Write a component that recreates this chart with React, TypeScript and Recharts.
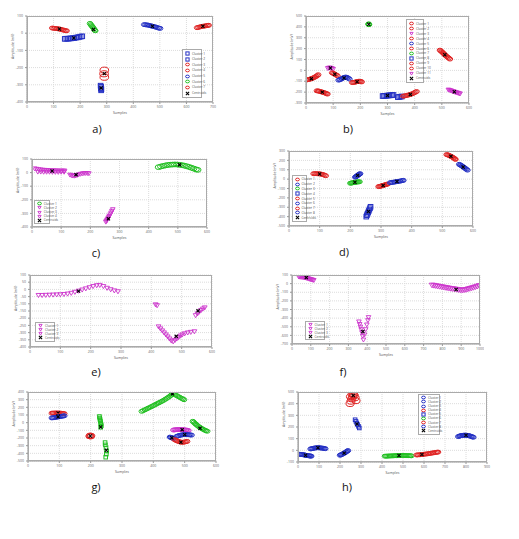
import React from 'react';
import { ScatterChart, Scatter, XAxis, YAxis, CartesianGrid } from 'recharts';

const RED = '#e02424';
const BLUE = '#2430c4';
const GREEN = '#22c022';
const MAG = '#cc33cc';

// ---- a) ----
const A_X_TICKS = [0, 100, 200, 300, 400, 500, 600, 700];
const A_Y_TICKS = [-400, -300, -200, -100, 0, 100];
const A_C1 = [[142,-33],[148,-32],[154,-32],[160,-31],[166,-30],[172,-29],[178,-28],[184,-26],[190,-24],[196,-22],[202,-20],[208,-18]];
const A_C2 = [[277,-305],[279,-312],[278,-320],[280,-326],[279,-332]];
const A_C3 = [[95,30],[100,29],[105,28],[110,27],[115,26],[120,25],[125,23],[130,21],[135,19],[140,17],[145,15],[149,14]];
const A_C4 = [[640,32],[645,34],[650,36],[655,38],[660,40],[665,41],[670,42],[675,44],[680,45],[684,46]];
const A_C5 = [[441,50],[446,49],[451,48],[456,47],[461,45],[466,43],[471,41],[476,39],[481,37],[486,35],[491,32],[496,30],[501,28]];
const A_C6 = [[237,57],[240,50],[243,44],[246,38],[249,32],[252,25],[255,18],[257,14]];
const A_C7 = [[291,-215],[290,-236],[291,-256]];
const A_CENT = [[176,-28],[279,-318],[122,24],[662,40],[472,40],[250,22],[291,-235]];

// ---- b) ----
const B_X_TICKS = [0, 100, 200, 300, 400, 500, 600];
const B_Y_TICKS = [-300, -200, -100, 0, 100, 200, 300, 400, 500];
const B_C1 = [[2,-88],[6,-86],[10,-84],[14,-81],[18,-78],[22,-74],[26,-70],[30,-65],[34,-60],[38,-54],[42,-47],[45,-40]];
const B_C2 = [[40,-188],[44,-189],[48,-191],[52,-194],[56,-197],[60,-200],[64,-203],[68,-206],[72,-210],[76,-214],[79,-218]];
const B_C3 = [[80,20],[84,23],[88,24],[92,22],[96,18],[100,12]];
const B_C4 = [[96,-22],[100,-27],[104,-32],[108,-38],[112,-44],[116,-50]];
const B_C5 = [[120,-90],[124,-86],[128,-82],[132,-76],[136,-70],[140,-66],[144,-62],[148,-62],[152,-66],[156,-72],[160,-80]];
const B_C6 = [[170,-112],[174,-111],[178,-110],[182,-107],[186,-105],[190,-102],[194,-100],[198,-100],[202,-102],[205,-106]];
const B_C7 = [[231,428],[232,420],[230,424]];
const B_C8 = [[282,-236],[287,-235],[292,-234],[297,-233],[302,-231],[307,-230],[312,-229],[317,-227],[322,-226],[338,-246],[343,-244],[348,-242],[353,-240]];
const B_C9 = [[358,-237],[363,-235],[368,-232],[373,-229],[378,-226],[383,-222],[388,-218],[393,-213],[398,-207],[403,-200],[407,-194]];
const B_C10 = [[493,186],[496,180],[499,173],[502,166],[505,159],[508,151],[511,144],[514,136],[518,128],[522,120],[526,112],[530,104]];
const B_C11 = [[524,-178],[528,-181],[532,-184],[536,-188],[540,-192],[544,-195],[548,-198],[552,-202],[556,-205],[560,-208],[564,-212],[567,-214]];
const B_CENT = [[20,-76],[60,-200],[90,22],[106,-36],[140,-70],[188,-104],[231,424],[300,-232],[384,-221],[511,144],[546,-196]];

// ---- c) ----
const C_X_TICKS = [0, 100, 200, 300, 400, 500, 600];
const C_Y_TICKS = [-400, -300, -200, -100, 0, 100];
const C_C1 = [[434,40],[442,45],[450,49],[458,53],[466,56],[474,58],[482,59],[490,60],[498,59],[506,57],[514,55],[522,51],[530,47],[538,42],[546,36],[554,30],[562,24],[568,20]];
const C_C2 = [[9,30],[16,27],[23,24],[30,22],[37,20],[44,19],[51,18],[58,17],[65,16],[72,16],[79,15],[86,15],[93,14],[100,14],[107,14],[112,14],[20,6],[30,6],[40,5],[50,5],[60,5],[70,4],[80,4],[90,4],[100,5],[110,5]];
const C_C3 = [[130,-16],[135,-20],[140,-23],[145,-24],[150,-22],[155,-18],[160,-14],[166,-10],[172,-7],[178,-5],[184,-4],[190,-4],[195,-6]];
const C_C4 = [[253,-362],[255,-356],[257,-350],[259,-343],[261,-336],[263,-328],[265,-320],[268,-308],[271,-295],[274,-282],[277,-270]];
const C_CENT = [[506,57],[69,12],[151,-15],[262,-340]];

// ---- d) ----
const D_X_TICKS = [0, 100, 200, 300, 400, 500, 600];
const D_Y_TICKS = [-500, -400, -300, -200, -100, 0, 100, 200, 300];
const D_C1 = [[80,58],[84,58],[88,58],[92,57],[96,57],[100,56],[104,54],[108,51],[112,47],[116,42],[120,36]];
const D_C2 = [[216,20],[218,25],[220,30],[222,35],[224,40],[226,45],[228,50],[230,55],[232,58]];
const D_C3 = [[200,-44],[203,-42],[206,-40],[209,-38],[212,-36],[215,-34],[218,-32],[221,-31],[224,-30],[227,-29],[230,-28]];
const D_C4 = [[252,-400],[254,-385],[256,-370],[258,-355],[260,-340],[262,-325],[264,-310],[266,-295]];
const D_C5 = [[292,-80],[295,-78],[298,-76],[301,-73],[304,-70],[307,-67],[310,-64],[313,-61],[316,-58],[319,-55],[322,-52]];
const D_C6 = [[330,-38],[334,-36],[338,-34],[342,-32],[346,-30],[350,-27],[354,-25],[358,-23],[362,-21],[366,-18],[370,-15],[373,-13]];
const D_C7 = [[514,262],[517,259],[520,256],[523,251],[526,246],[529,241],[532,236],[535,230],[538,224],[541,216],[543,210]];
const D_C8 = [[555,158],[558,152],[561,146],[564,140],[567,133],[570,126],[573,119],[576,111],[579,104],[582,96]];
const D_CENT = [[100,55],[224,40],[215,-34],[259,-345],[307,-67],[352,-26],[528,243],[568,130]];

// ---- e) ----
const E_X_TICKS = [0, 100, 200, 300, 400, 500, 600];
const E_Y_TICKS = [-400, -350, -300, -250, -200, -150, -100, -50, 0, 50, 100];
const E_C1 = [[28,-40],[40,-40],[52,-39],[64,-38],[76,-37],[88,-36],[100,-35],[112,-33],[124,-30],[136,-25],[148,-18],[160,-10],[172,-2],[184,6],[196,14],[208,22],[220,28],[230,30],[242,22],[254,10],[266,0],[278,-8],[290,-14]];
const E_C2 = [[414,-105],[419,-111],[424,-258],[430,-272],[436,-286],[442,-300],[448,-314],[454,-328],[460,-342],[466,-356],[472,-362],[478,-352],[484,-342],[490,-332],[496,-322],[502,-314],[510,-306],[520,-300],[530,-296],[542,-292]];
const E_C3 = [[546,-180],[552,-168],[558,-156],[564,-144],[570,-134],[576,-126]];
const E_CENT = [[160,-12],[482,-326],[554,-149]];

// ---- f) ----
const F_X_TICKS = [0, 100, 200, 300, 400, 500, 600, 700, 800, 900, 1000];
const F_Y_TICKS = [-700, -600, -500, -400, -300, -200, -100, 0, 100];
const F_C1 = [[36,80],[41,79],[46,78],[51,77],[56,76],[61,74],[66,72],[71,69],[76,66],[81,63],[86,60],[91,56],[96,52],[101,49],[106,46],[111,43],[116,40]];
const F_C2 = [[356,-440],[360,-470],[364,-500],[368,-530],[372,-565],[376,-605],[380,-650],[386,-590],[392,-530],[398,-475],[404,-425],[407,-390]];
const F_C3 = [[745,-17],[755,-20],[765,-24],[775,-28],[785,-32],[795,-36],[805,-40],[815,-44],[825,-48],[835,-52],[845,-56],[855,-59],[865,-62],[875,-66],[885,-70],[895,-73],[905,-75],[915,-72],[925,-68],[935,-62],[945,-56],[955,-50],[965,-44],[975,-37],[985,-30],[996,-22]];
const F_CENT = [[76,70],[377,-556],[873,-68]];

// ---- g) ----
const G_X_TICKS = [0, 100, 200, 300, 400, 500, 600];
const G_Y_TICKS = [-500, -400, -300, -200, -100, 0, 100, 200, 300, 400];
const G_C1 = [[76,124],[80,125],[84,125],[88,126],[92,126],[96,126],[100,125],[104,124],[108,122],[112,120],[116,118]];
const G_C2 = [[76,62],[80,64],[84,66],[88,69],[92,72],[96,75],[100,78],[104,81],[108,84],[112,87],[116,90]];
const G_C3 = [[198,-168],[200,-180],[196,-176],[202,-172]];
const G_C4 = [[228,80],[229,60],[230,40],[231,20],[232,0],[233,-20],[234,-40],[232,-60]];
const G_C5 = [[246,-260],[247,-290],[249,-330],[251,-370],[250,-410],[248,-450]];
const G_C6 = [[363,148],[368,158],[373,168],[378,178],[383,188],[388,198],[393,208],[398,218],[403,228],[408,239],[413,250],[418,260],[423,270],[428,281],[433,292],[438,305],[443,318],[448,332],[453,346],[457,360],[461,376],[465,370],[470,362],[475,352],[480,340],[485,329],[490,318],[494,309],[498,300]];
const G_C7 = [[526,18],[529,6],[533,-10],[536,-22],[540,-35],[544,-48],[548,-60],[552,-70],[556,-80],[560,-89],[564,-98],[568,-105],[572,-112]];
const G_C8 = [[464,-96],[468,-94],[472,-92],[476,-91],[480,-90],[484,-90],[488,-90],[492,-91],[496,-92],[500,-94],[504,-96],[508,-99],[512,-102]];
const G_C9 = [[474,-180],[478,-174],[482,-168],[486,-164],[490,-160],[494,-158],[498,-156],[502,-156],[506,-156],[510,-157],[514,-158],[518,-160],[522,-162]];
const G_C10 = [[453,-188],[456,-192],[459,-197],[462,-203],[465,-208]];
const G_C11 = [[468,-222],[472,-230],[476,-238],[480,-244],[484,-250],[488,-254],[492,-256],[496,-255],[500,-252],[504,-248],[508,-244]];
const G_CENT = [[96,126],[96,76],[199,-175],[232,-57],[250,-360],[461,376],[549,-74],[492,-91],[500,-156],[459,-197],[488,-254]];

// ---- h) ----
const H_X_TICKS = [0, 100, 200, 300, 400, 500, 600, 700, 800, 900];
const H_Y_TICKS = [-100, 0, 100, 200, 300, 400, 500];
const H_C1 = [[8,-34],[12,-35],[16,-36],[20,-37],[24,-38],[28,-39],[32,-40],[36,-42],[40,-44],[44,-45],[48,-46],[52,-47],[56,-48],[60,-49],[63,-50]];
const H_C2 = [[60,12],[65,14],[70,16],[75,18],[80,20],[85,21],[90,22],[95,22],[100,22],[105,21],[110,20],[115,19],[120,18],[125,16],[130,14]];
const H_C3 = [[200,-42],[204,-39],[208,-36],[212,-32],[216,-28],[220,-24],[224,-20],[228,-15],[232,-10],[235,-6],[238,-2]];
const H_C4 = [[248,400],[252,420],[256,440],[260,460],[264,476],[268,470],[272,450],[276,425],[250,460],[258,478]];
const H_C5 = [[272,262],[276,248],[280,234],[284,220],[288,206],[292,192]];
const H_C6 = [[414,-50],[420,-50],[426,-49],[432,-49],[438,-48],[444,-48],[450,-47],[456,-47],[462,-46],[468,-46],[474,-45],[480,-45],[486,-44],[492,-44],[498,-44],[504,-44],[510,-44],[516,-45],[522,-45],[528,-46],[534,-46],[540,-47]];
const H_C7 = [[565,-40],[571,-39],[578,-38],[584,-37],[591,-36],[597,-34],[604,-33],[610,-31],[617,-30],[623,-28],[630,-26],[636,-24],[643,-22],[649,-20],[656,-18],[662,-16],[667,-15]];
const H_C8 = [[763,118],[768,121],[772,124],[777,126],[781,128],[786,129],[790,130],[795,130],[799,130],[804,129],[808,128],[813,126],[817,124],[822,121],[826,118],[831,115],[835,112]];
const H_CENT = [[36,-42],[95,22],[220,-24],[263,470],[281,225],[481,-45],[590,-36],[800,130]];

type Cluster = { pts: number[][]; color: string; shape: string; r?: number };
type PanelCfg = {
  label: string; lx: number; ly: number;
  px: number; py: number; pw: number; ph: number;
  xTicks: number[]; yTicks: number[];
  clusters: Cluster[]; cent: number[][];
  legend?: { fx: number; fy: number; fw: number; fh: number };
};

const P = (a: number[][]) => a.map(([x, y]) => ({ x, y }));

function markShape(kind: string, color: string, r = 2.3) {
  return (p: any) => {
    const { cx, cy } = p;
    if (cx == null || cy == null) return <g />;
    if (kind === 'sq')
      return <rect x={cx - r} y={cy - r} width={2 * r} height={2 * r} fill="none" stroke={color} strokeWidth={1} />;
    if (kind === 'tri')
      return <polygon points={`${cx - r},${cy - r * 0.7} ${cx + r},${cy - r * 0.7} ${cx},${cy + r}`} fill="none" stroke={color} strokeWidth={0.9} />;
    return <ellipse cx={cx} cy={cy} rx={r * 1.2} ry={r * 0.85} fill="none" stroke={color} strokeWidth={1} />;
  };
}

const centShape = (p: any) => {
  const { cx, cy } = p;
  if (cx == null || cy == null) return <g />;
  const s = 1.6;
  return <path d={`M${cx - s},${cy - s}L${cx + s},${cy + s}M${cx - s},${cy + s}L${cx + s},${cy - s}`} stroke="#000" strokeWidth={1.1} />;
};

const TICK = { fontSize: 3.5, fill: '#666' };

function LegendBox({ cfg }: { cfg: PanelCfg }) {
  const lg = cfg.legend!;
  const items = [...cfg.clusters.map((c, i) => ({ name: `Cluster ${i + 1}`, c })), { name: 'Centroids', c: null as any }];
  return (
    <div style={{
      position: 'absolute', left: cfg.px + lg.fx * cfg.pw, top: cfg.py + lg.fy * cfg.ph,
      width: lg.fw * cfg.pw, height: lg.fh * cfg.ph, background: '#fff', border: '0.5px solid #aaa',
      boxSizing: 'border-box', display: 'flex', flexDirection: 'column', justifyContent: 'space-around', padding: '1px 1px',
    }}>
      {items.map((it, i) => (
        <div key={i} style={{ display: 'flex', alignItems: 'center', height: 4 }}>
          <svg width={7} height={5} style={{ flex: 'none' }}>
            {it.c ? markShape(it.c.shape, it.c.color, 1.6)({ cx: 3.5, cy: 2.5 }) : centShape({ cx: 3.5, cy: 2.5 })}
          </svg>
          <span style={{ fontSize: 3.2, color: '#555', marginLeft: 1, whiteSpace: 'nowrap', lineHeight: '4px' }}>{it.name}</span>
        </div>
      ))}
    </div>
  );
}

function Panel({ cfg }: { cfg: PanelCfg }) {
  const ML = 20, MT = 4, MR = 4, MB = 20;
  const xd = [cfg.xTicks[0], cfg.xTicks[cfg.xTicks.length - 1]];
  const yd = [cfg.yTicks[0], cfg.yTicks[cfg.yTicks.length - 1]];
  return (
    <>
      <div style={{ position: 'absolute', left: cfg.px - ML, top: cfg.py - MT }}>
        <ScatterChart width={cfg.pw + ML + MR} height={cfg.ph + MT + MB} margin={{ top: MT, right: MR, left: 6, bottom: 8 }}>
          <CartesianGrid stroke="#dcdcdc" strokeDasharray="1 1" />
          <XAxis type="number" dataKey="x" domain={xd} ticks={cfg.xTicks} interval={0} height={12} tick={TICK} tickSize={2}
            axisLine={{ stroke: '#999' }} tickLine={{ stroke: '#999' }} allowDataOverflow
            label={{ value: 'Samples', position: 'bottom', offset: -2, fontSize: 3.5, fill: '#555' }} />
          <YAxis type="number" dataKey="y" domain={yd} ticks={cfg.yTicks} interval={0} width={14} tick={TICK} tickSize={2}
            axisLine={{ stroke: '#999' }} tickLine={{ stroke: '#999' }} allowDataOverflow
            label={{ value: 'Amplitude (mV)', angle: -90, position: 'insideLeft', offset: 0, fontSize: 3.5, fill: '#555' }} />
          {cfg.clusters.map((c, i) => (
            <Scatter key={i} data={P(c.pts)} shape={markShape(c.shape, c.color, c.r)} isAnimationActive={false} />
          ))}
          <Scatter data={P(cfg.cent)} shape={centShape} isAnimationActive={false} />
        </ScatterChart>
      </div>
      <div style={{ position: 'absolute', left: cfg.px, top: cfg.py, width: cfg.pw, height: cfg.ph, border: '0.6px solid #aaa', boxSizing: 'border-box', pointerEvents: 'none' }} />
      {cfg.legend && <LegendBox cfg={cfg} />}
      <div style={{ position: 'absolute', left: cfg.lx - 15, top: cfg.ly - 8, width: 30, textAlign: 'center', fontSize: 11, lineHeight: '16px', color: '#111' }}>{cfg.label}</div>
    </>
  );
}

const PANELS: PanelCfg[] = [
  {
    label: 'a)', lx: 97, ly: 129, px: 27, py: 16, pw: 186, ph: 86, xTicks: A_X_TICKS, yTicks: A_Y_TICKS,
    clusters: [
      { pts: A_C1, color: BLUE, shape: 'sq' }, { pts: A_C2, color: BLUE, shape: 'sq' },
      { pts: A_C3, color: RED, shape: 'o' }, { pts: A_C4, color: RED, shape: 'o' },
      { pts: A_C5, color: BLUE, shape: 'o' }, { pts: A_C6, color: GREEN, shape: 'o' },
      { pts: A_C7, color: RED, shape: 'o', r: 3.6 },
    ],
    cent: A_CENT, legend: { fx: 0.833, fy: 0.38, fw: 0.108, fh: 0.574 },
  },
  {
    label: 'b)', lx: 348, ly: 129, px: 306, py: 16, pw: 163, ph: 87, xTicks: B_X_TICKS, yTicks: B_Y_TICKS,
    clusters: [
      { pts: B_C1, color: RED, shape: 'o' }, { pts: B_C2, color: RED, shape: 'o' },
      { pts: B_C3, color: MAG, shape: 'tri' }, { pts: B_C4, color: RED, shape: 'o' },
      { pts: B_C5, color: BLUE, shape: 'o' }, { pts: B_C6, color: RED, shape: 'o' },
      { pts: B_C7, color: GREEN, shape: 'o' }, { pts: B_C8, color: BLUE, shape: 'sq' },
      { pts: B_C9, color: RED, shape: 'o' }, { pts: B_C10, color: RED, shape: 'o' },
      { pts: B_C11, color: MAG, shape: 'tri' },
    ],
    cent: B_CENT, legend: { fx: 0.613, fy: 0.038, fw: 0.11, fh: 0.73 },
  },
  {
    label: 'c)', lx: 96, ly: 253, px: 32, py: 159, pw: 175, ph: 68, xTicks: C_X_TICKS, yTicks: C_Y_TICKS,
    clusters: [
      { pts: C_C1, color: GREEN, shape: 'o', r: 2.8 }, { pts: C_C2, color: MAG, shape: 'tri' },
      { pts: C_C3, color: MAG, shape: 'tri' }, { pts: C_C4, color: MAG, shape: 'tri' },
    ],
    cent: C_CENT, legend: { fx: 0.01, fy: 0.6, fw: 0.09, fh: 0.36 },
  },
  {
    label: 'd)', lx: 344, ly: 252, px: 289, py: 151, pw: 184, ph: 75, xTicks: D_X_TICKS, yTicks: D_Y_TICKS,
    clusters: [
      { pts: D_C1, color: RED, shape: 'o' }, { pts: D_C2, color: BLUE, shape: 'o' },
      { pts: D_C3, color: GREEN, shape: 'o' }, { pts: D_C4, color: BLUE, shape: 'sq' },
      { pts: D_C5, color: RED, shape: 'o' }, { pts: D_C6, color: BLUE, shape: 'o' },
      { pts: D_C7, color: RED, shape: 'o' }, { pts: D_C8, color: BLUE, shape: 'o' },
    ],
    cent: D_CENT, legend: { fx: 0.014, fy: 0.32, fw: 0.085, fh: 0.63 },
  },
  {
    label: 'e)', lx: 96, ly: 372, px: 30, py: 275, pw: 182, ph: 72, xTicks: E_X_TICKS, yTicks: E_Y_TICKS,
    clusters: [
      { pts: E_C1, color: MAG, shape: 'tri', r: 2.4 }, { pts: E_C2, color: MAG, shape: 'tri', r: 2.4 },
      { pts: E_C3, color: MAG, shape: 'tri', r: 2.4 },
    ],
    cent: E_CENT, legend: { fx: 0.028, fy: 0.65, fw: 0.11, fh: 0.28 },
  },
  {
    label: 'f)', lx: 343, ly: 372, px: 292, py: 275, pw: 188, ph: 69, xTicks: F_X_TICKS, yTicks: F_Y_TICKS,
    clusters: [
      { pts: F_C1, color: MAG, shape: 'tri' }, { pts: F_C2, color: MAG, shape: 'tri' },
      { pts: F_C3, color: MAG, shape: 'tri', r: 2.8 },
    ],
    cent: F_CENT, legend: { fx: 0.067, fy: 0.66, fw: 0.11, fh: 0.28 },
  },
  {
    label: 'g)', lx: 96, ly: 487, px: 28, py: 392, pw: 188, ph: 69, xTicks: G_X_TICKS, yTicks: G_Y_TICKS,
    clusters: [
      { pts: G_C1, color: RED, shape: 'o' }, { pts: G_C2, color: BLUE, shape: 'o' },
      { pts: G_C3, color: RED, shape: 'o', r: 3 }, { pts: G_C4, color: GREEN, shape: 'sq', r: 1.8 },
      { pts: G_C5, color: GREEN, shape: 'sq', r: 1.8 }, { pts: G_C6, color: GREEN, shape: 'o' },
      { pts: G_C7, color: GREEN, shape: 'o' }, { pts: G_C8, color: MAG, shape: 'o' },
      { pts: G_C9, color: BLUE, shape: 'o' }, { pts: G_C10, color: BLUE, shape: 'o' },
      { pts: G_C11, color: RED, shape: 'o' },
    ],
    cent: G_CENT,
  },
  {
    label: 'h)', lx: 347, ly: 487, px: 298, py: 392, pw: 189, ph: 70, xTicks: H_X_TICKS, yTicks: H_Y_TICKS,
    clusters: [
      { pts: H_C1, color: BLUE, shape: 'o' }, { pts: H_C2, color: BLUE, shape: 'o' },
      { pts: H_C3, color: BLUE, shape: 'o' }, { pts: H_C4, color: RED, shape: 'o', r: 3.4 },
      { pts: H_C5, color: BLUE, shape: 'sq', r: 1.8 }, { pts: H_C6, color: GREEN, shape: 'o' },
      { pts: H_C7, color: RED, shape: 'o' }, { pts: H_C8, color: BLUE, shape: 'o' },
    ],
    cent: H_CENT, legend: { fx: 0.635, fy: 0.024, fw: 0.118, fh: 0.59 },
  },
];

export default function App() {
  return (
    <div style={{ position: 'absolute', left: 0, top: 0, width: 519, height: 539, background: '#fff', fontFamily: 'Open Sans, sans-serif' }}>
      {PANELS.map((p, i) => <Panel key={i} cfg={p} />)}
    </div>
  );
}
